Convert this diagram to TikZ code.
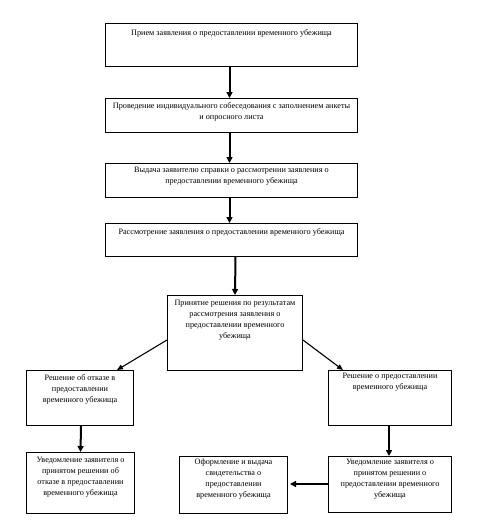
\documentclass[tikz,border=0pt]{standalone}
\usepackage{fontspec}
\setmainfont{Liberation Serif}
\usetikzlibrary{arrows.meta}
\begin{document}
\begin{tikzpicture}[x=1pt,y=-1pt,
  box/.style={draw=black, line width=1pt, rectangle, anchor=north west, inner sep=0pt},
  txt/.style={anchor=north, align=center, inner sep=0pt, font=\fontsize{8.2}{11}\selectfont},
  thickarrow/.style={line width=2pt, -{Triangle[length=6pt,width=6pt]}},
  thinarrow/.style={line width=1.1pt, -{Triangle[length=6pt,width=5pt]}}]
\useasboundingbox (0,0) rectangle (485,530);
% boxes
\node[box, minimum width=252, minimum height=43] (b1) at (105,23) {};
\node[box, minimum width=252, minimum height=34] (b2) at (105,98) {};
\node[box, minimum width=252, minimum height=34] (b3) at (105,163) {};
\node[box, minimum width=252, minimum height=33] (b4) at (105,223) {};
\node[box, minimum width=135, minimum height=75] (b5) at (167,295) {};
\node[box, minimum width=107, minimum height=55] (b6) at (26,370) {};
\node[box, minimum width=123, minimum height=55] (b7) at (328,370) {};
\node[box, minimum width=108, minimum height=61] (b8) at (26,452) {};
\node[box, minimum width=108, minimum height=57] (b9) at (179,456) {};
\node[box, minimum width=123, minimum height=56] (b10) at (328,456) {};
% texts
\node[txt] (t1) at ([yshift=-6]b1.north) {Прием заявления о предоставлении временного убежища};
\node[txt] (t2) at ([yshift=-4]b2.north) {Проведение индивидуального собеседования с заполнением анкеты\\и опросного листа};
\node[txt] (t3) at ([yshift=-4]b3.north) {Выдача заявителю справки о рассмотрении заявления о\\предоставлении временного убежища};
\node[txt] (t4) at ([yshift=-5]b4.north) {Рассмотрение заявления о предоставлении временного убежища};
\node[txt] (t5) at ([yshift=-5]b5.north) {Принятие решения по результатам\\рассмотрения заявления о\\предоставлении временного\\убежища};
\node[txt] (t6) at ([yshift=-4]b6.north) {Решение об отказе в\\предоставлении\\временного убежища};
\node[txt] (t7) at ([yshift=-3]b7.north) {Решение о предоставлении\\временного убежища};
\node[txt] (t8) at ([yshift=-5]b8.north) {Уведомление заявителя о\\принятом решении об\\отказе в предоставлении\\временного убежища};
\node[txt] (t9) at ([yshift=-3]b9.north) {Оформление и выдача\\свидетельства о\\предоставлении\\временного убежища};
\node[txt] (t10) at ([yshift=-3]b10.north) {Уведомление заявителя о\\принятом решении о\\предоставлении временного\\убежища};
% arrows
\draw[thickarrow] ([xshift=-2]b1.south) -- ([xshift=-2]b2.north);
\draw[thickarrow] ([xshift=-2]b2.south) -- ([xshift=-2]b3.north);
\draw[thickarrow] ([xshift=-2]b3.south) -- ([xshift=-2]b4.north);
\draw[thickarrow] ([xshift=4]b4.south) -- ([xshift=0]b5.north);
\draw[thinarrow] ([yshift=-45]b5.north west) -- ([xshift=-17]b6.north east);
\draw[thinarrow] ([yshift=-45]b5.north east) -- ([xshift=15]b7.north west);
\draw[thickarrow] ([xshift=1]b6.south) -- ([xshift=0]b8.north);
\draw[thickarrow] ([xshift=-1]b7.south) -- ([xshift=-1]b10.north);
\draw[thickarrow] ([yshift=-28]b10.north west) -- ([yshift=-28,xshift=2]b9.north east);
\end{tikzpicture}
\end{document}
